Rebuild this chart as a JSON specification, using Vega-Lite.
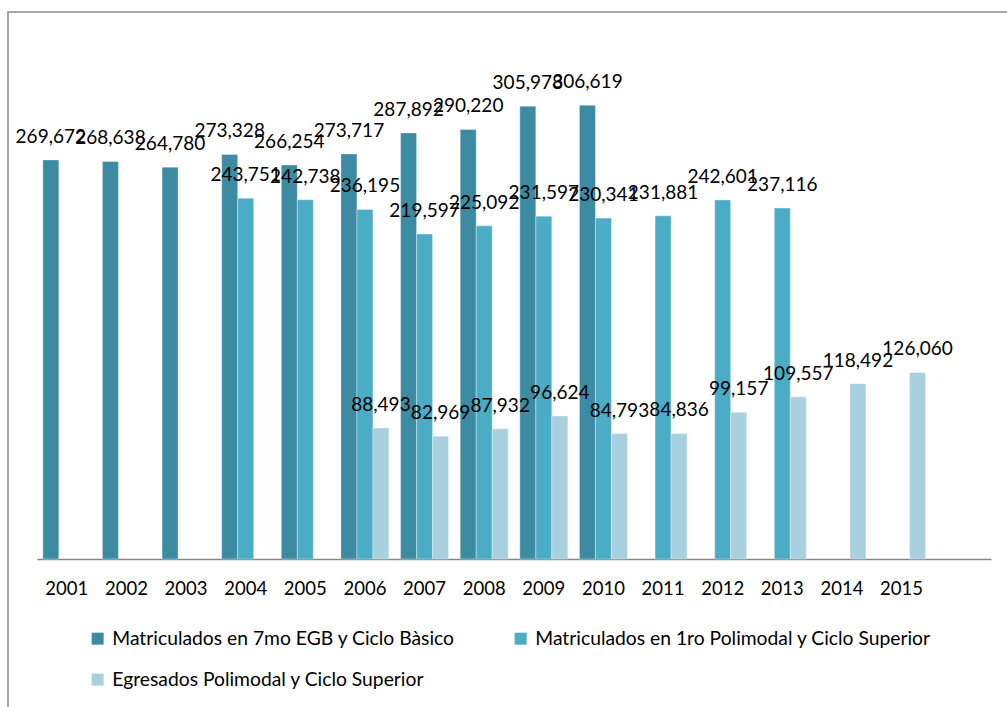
{
  "$schema": "https://vega.github.io/schema/vega-lite/v6.json",
  "width": 1001,
  "height": 697,
  "autosize": {"type": "none"},
  "padding": {"left": 8, "top": 12, "right": -2, "bottom": -2},
  "background": "white",
  "config": {
    "font": "Lato",
    "view": {"stroke": "#8a8a8a", "strokeWidth": 1.5}
  },
  "data": {
    "values": [
      {"year": "2001", "serie": "Matriculados en 7mo EGB y Ciclo Bàsico", "value": 269672},
      {"year": "2002", "serie": "Matriculados en 7mo EGB y Ciclo Bàsico", "value": 268638},
      {"year": "2003", "serie": "Matriculados en 7mo EGB y Ciclo Bàsico", "value": 264780},
      {"year": "2004", "serie": "Matriculados en 7mo EGB y Ciclo Bàsico", "value": 273328},
      {"year": "2005", "serie": "Matriculados en 7mo EGB y Ciclo Bàsico", "value": 266254},
      {"year": "2006", "serie": "Matriculados en 7mo EGB y Ciclo Bàsico", "value": 273717},
      {"year": "2007", "serie": "Matriculados en 7mo EGB y Ciclo Bàsico", "value": 287892},
      {"year": "2008", "serie": "Matriculados en 7mo EGB y Ciclo Bàsico", "value": 290220},
      {"year": "2009", "serie": "Matriculados en 7mo EGB y Ciclo Bàsico", "value": 305978},
      {"year": "2010", "serie": "Matriculados en 7mo EGB y Ciclo Bàsico", "value": 306619},
      {"year": "2004", "serie": "Matriculados en 1ro Polimodal y Ciclo Superior", "value": 243751},
      {"year": "2005", "serie": "Matriculados en 1ro Polimodal y Ciclo Superior", "value": 242738},
      {"year": "2006", "serie": "Matriculados en 1ro Polimodal y Ciclo Superior", "value": 236195},
      {"year": "2007", "serie": "Matriculados en 1ro Polimodal y Ciclo Superior", "value": 219597},
      {"year": "2008", "serie": "Matriculados en 1ro Polimodal y Ciclo Superior", "value": 225092},
      {"year": "2009", "serie": "Matriculados en 1ro Polimodal y Ciclo Superior", "value": 231597},
      {"year": "2010", "serie": "Matriculados en 1ro Polimodal y Ciclo Superior", "value": 230341},
      {"year": "2011", "serie": "Matriculados en 1ro Polimodal y Ciclo Superior", "value": 231881},
      {"year": "2012", "serie": "Matriculados en 1ro Polimodal y Ciclo Superior", "value": 242601},
      {"year": "2013", "serie": "Matriculados en 1ro Polimodal y Ciclo Superior", "value": 237116},
      {"year": "2006", "serie": "Egresados Polimodal y Ciclo Superior", "value": 88493},
      {"year": "2007", "serie": "Egresados Polimodal y Ciclo Superior", "value": 82969},
      {"year": "2008", "serie": "Egresados Polimodal y Ciclo Superior", "value": 87932},
      {"year": "2009", "serie": "Egresados Polimodal y Ciclo Superior", "value": 96624},
      {"year": "2010", "serie": "Egresados Polimodal y Ciclo Superior", "value": 84793},
      {"year": "2011", "serie": "Egresados Polimodal y Ciclo Superior", "value": 84836},
      {"year": "2012", "serie": "Egresados Polimodal y Ciclo Superior", "value": 99157},
      {"year": "2013", "serie": "Egresados Polimodal y Ciclo Superior", "value": 109557},
      {"year": "2014", "serie": "Egresados Polimodal y Ciclo Superior", "value": 118492},
      {"year": "2015", "serie": "Egresados Polimodal y Ciclo Superior", "value": 126060}
    ]
  },
  "encoding": {
    "x": {
      "field": "year",
      "type": "nominal",
      "sort": null,
      "scale": {
        "domain": ["2001", "2002", "2003", "2004", "2005", "2006", "2007", "2008", "2009", "2010", "2011", "2012", "2013", "2014", "2015", ""],
        "range": [29, 983],
        "paddingInner": 0.195,
        "paddingOuter": 0.0975
      },
      "axis": {
        "title": null,
        "offset": -150,
        "ticks": false,
        "tickSize": 0,
        "grid": false,
        "labelAngle": 0,
        "labelPadding": 35,
        "labelBaseline": "alphabetic",
        "labelFont": "Lato",
        "labelFontSize": 18.5,
        "labelColor": "#000000",
        "domainColor": "#868686",
        "domainWidth": 1.5
      }
    },
    "xOffset": {
      "field": "serie",
      "type": "nominal",
      "scale": {
        "domain": ["Matriculados en 7mo EGB y Ciclo Bàsico", "Matriculados en 1ro Polimodal y Ciclo Superior", "Egresados Polimodal y Ciclo Superior"],
        "paddingInner": 0,
        "paddingOuter": 0
      }
    },
    "y": {
      "field": "value",
      "type": "quantitative",
      "scale": {"domain": [0, 350000], "range": [547, 29]},
      "axis": null
    }
  },
  "layer": [
    {
      "mark": {"type": "bar", "stroke": "#ffffff", "strokeOpacity": 0.35, "strokeWidth": 1},
      "encoding": {
        "color": {
          "field": "serie",
          "type": "nominal",
          "scale": {
            "domain": ["Matriculados en 7mo EGB y Ciclo Bàsico", "Matriculados en 1ro Polimodal y Ciclo Superior", "Egresados Polimodal y Ciclo Superior"],
            "range": ["#3d8ba3", "#4bacc6", "#a9d0de"]
          },
          "legend": {
            "title": null,
            "orient": "none",
            "legendX": 80,
            "legendY": 617,
            "direction": "horizontal",
            "columns": 2,
            "padding": 0,
            "symbolType": "square",
            "symbolSize": 144,
            "symbolStrokeWidth": 0,
            "labelFont": "Lato",
            "labelFontSize": 19.3,
            "labelColor": "#000000",
            "labelOffset": 5,
            "labelLimit": 600,
            "rowPadding": 21,
            "columnPadding": 56
          }
        }
      }
    },
    {
      "mark": {"type": "text", "font": "Lato", "fontSize": 19, "baseline": "alphabetic", "dy": -17, "color": "#000000"},
      "encoding": {
        "text": {"field": "value", "type": "quantitative", "format": ",d"}
      }
    }
  ]
}
